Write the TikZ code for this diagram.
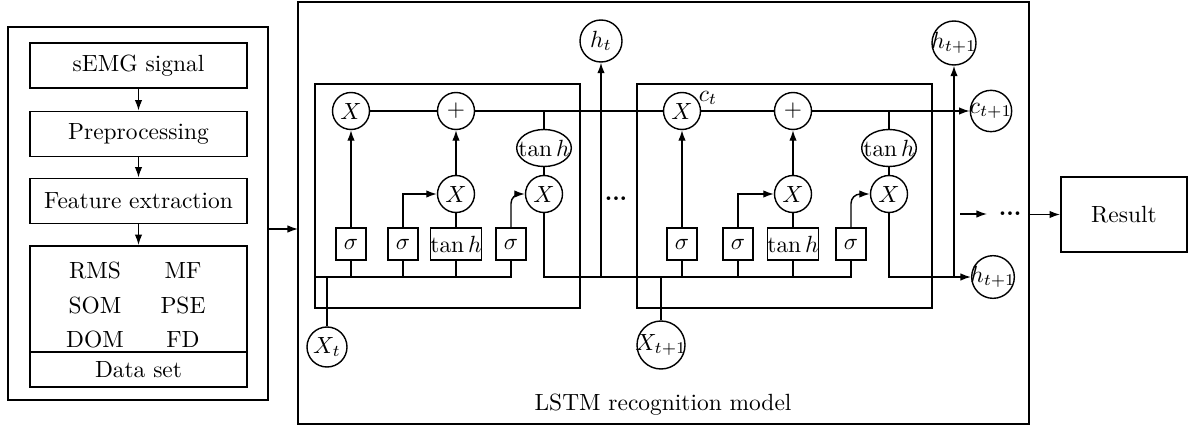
\documentclass[tikz,border=0pt]{standalone}
\usetikzlibrary{arrows.meta,shapes.geometric,calc}
\newcommand{\nb}[1]{\makebox[0pt]{#1}}
\begin{document}
\begin{tikzpicture}[x=0.015cm,y=-0.015cm,
 box/.style={draw,line width=0.8pt,minimum width=3.255cm,minimum height=0.675cm,inner sep=0pt},
 frame/.style={draw,line width=0.8pt,inner sep=0pt},
 crc/.style={draw,circle,line width=0.6pt,inner sep=0pt,minimum size=0.555cm},
 io/.style={draw,circle,line width=0.6pt,inner sep=0pt,minimum size=0.63cm},
 gate/.style={draw,rectangle,line width=0.6pt,inner sep=0pt,minimum width=0.45cm,minimum height=0.48cm},
 tbox/.style={gate,minimum width=0.675cm},
 ell/.style={draw,ellipse,line width=0.6pt,inner sep=0pt,minimum width=0.82cm,minimum height=0.555cm},
 ln/.style={line width=0.6pt},
 arr/.style={ln,-{Latex[length=4.5pt,width=3.2pt]}}]
\useasboundingbox (0,0) rectangle (1188,427);
% left part
\node[frame,minimum width=3.9cm,minimum height=5.595cm] (left) at (138,213.5) {};
\node[box] (s1) at (138.5,65.5) {sEMG signal};
\node[box] (s2) at (138.5,134) {Preprocessing};
\node[box] (s3) at (138.5,201) {Feature extraction};
\node[frame,minimum width=3.255cm,minimum height=1.59cm] (feat) at (138.5,299) {};
\node[frame,minimum width=3.255cm,minimum height=0.525cm] (ds) at (138.5,369.5) {Data set};
\node (rms) at (95,270) {RMS};
\node (mf) at (183,270) {MF};
\node (som) at (95,305) {SOM};
\node (pse) at (183,305) {PSE};
\node (dom) at (95,339) {DOM};
\node (fd) at (183,339) {FD};
\draw[arr] (s1.south) -- (s2.north);
\draw[arr] (s2.south) -- (s3.north);
\draw[arr] (s3.south) -- (feat.north);
% LSTM frame
\node[frame,minimum width=10.965cm,minimum height=6.33cm] (lstm) at (663.5,213) {};
\node (lbl) at (663,405) {LSTM recognition model};
\coordinate (la) at (268,229);
\coordinate (lb) at (298,229);
\draw[arr] (la) -- (lb);
% cells
\node[frame,minimum width=3.975cm,minimum height=3.36cm] (c1) at (447.5,196) {};
\node[frame,minimum width=4.425cm,minimum height=3.36cm] (c2) at (784.5,196) {};
\coordinate (b) at (0,277);
% cell 1
\node[crc] (f1) at (351,111) {$X$};
\node[crc] (p1) at (456,111) {$+$};
\node[ell] (e1) at (544,148) {\nb{$\tan h$}};
\node[crc] (m1) at (456,194) {$X$};
\node[crc] (o1) at (544,194) {$X$};
\node[gate] (g11) at (351,244) {$\sigma$};
\node[gate] (g12) at (403,244) {$\sigma$};
\node[tbox] (t1) at (456,244) {$\tan h$};
\node[gate] (g14) at (511,244) {$\sigma$};
\node[io,minimum size=0.6cm] (xt) at (327,347) {\nb{$X_t$}};
\node[io] (ht) at (601,41) {\nb{$h_t$}};
% cell 2
\node[crc] (f2) at (682,111) {$X$};
\node (ct) at (708,98) {$c_t$};
\node[crc] (p2) at (793,111) {$+$};
\node[ell] (e2) at (889,148) {\nb{$\tan h$}};
\node[crc] (m2) at (793,194) {$X$};
\node[crc] (o2) at (889,194) {$X$};
\node[gate] (g21) at (682,244) {$\sigma$};
\node[gate] (g22) at (738,244) {$\sigma$};
\node[tbox] (t2) at (793,244) {$\tan h$};
\node[gate] (g24) at (851,244) {$\sigma$};
\node[io,minimum size=0.72cm] (xt1) at (661,345) {\nb{$X_{t+1}$}};
\node[io,minimum size=0.62cm] (ct1) at (991,111) {\nb{$c_{t+1}$}};
\node[io,minimum size=0.64cm] (hb) at (993,277) {\nb{$h_{t+1}$}};
\node[io,minimum size=0.66cm] (ht1) at (954,43) {\nb{$h_{t+1}$}};
\node[font=\bfseries] (d1) at (616,199) {...};
% cell 1 wiring
\draw[ln] (c1.west |- b) -- (g14.south |- b) -- (g14.south);
\foreach \g in {g11,g12,t1} \draw[ln] (\g.south) -- (\g.south |- b);
\draw[ln] (xt.north) -- (xt.north |- b);
\draw[arr] (g11.north) -- (f1.south);
\draw[ln] (f1.east) -- (p1.west);
\draw[arr] (m1.north) -- (p1.south);
\draw[ln] (t1.north) -- (m1.south);
\draw[arr] (g12.north) |- (m1.west);
\draw[arr,rounded corners=4pt] (g14.north) |- (o1.west);
\draw[ln] (e1.south) -- (o1.north);
\draw[ln] (e1.north) -- (e1.north |- p1.east);
\draw[ln] (p1.east) -- (f2.west);
\draw[ln] (o1.south) |- (g24.south |- b) -- (g24.south);
\draw[arr] (ht.south |- b) -- (ht.south);
% cell 2 wiring
\foreach \g in {g21,g22,t2} \draw[ln] (\g.south) -- (\g.south |- b);
\draw[ln] (xt1.north) -- (xt1.north |- b);
\draw[arr] (g21.north) -- (f2.south);
\draw[ln] (f2.east) -- (p2.west);
\draw[arr] (m2.north) -- (p2.south);
\draw[ln] (t2.north) -- (m2.south);
\draw[arr] (g22.north) |- (m2.west);
\draw[arr,rounded corners=4pt] (g24.north) |- (o2.west);
\draw[ln] (e2.south) -- (o2.north);
\draw[ln] (e2.north) -- (e2.north |- p2.east);
\draw[arr] (p2.east) -- (ct1.west);
\draw[arr] (o2.south) |- (hb.west);
\draw[arr] (ht1.south |- hb.west) -- (ht1.south);
% output
\node[frame,minimum width=1.89cm,minimum height=1.125cm] (res) at (1124,214.5) {Result};
\node[font=\bfseries] (d2) at (1010,214) {...};
\coordinate (r1) at (960,214);
\draw[arr,shorten >=1.5pt] (r1) -- (d2.west);
\draw[arr] (lstm.east |- res.west) -- (res.west);
\end{tikzpicture}
\end{document}
